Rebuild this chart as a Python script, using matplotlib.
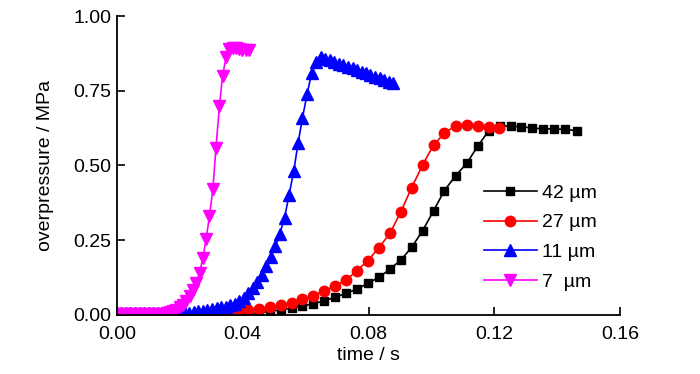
import matplotlib
matplotlib.use("Agg")
import matplotlib.pyplot as plt

plt.rcParams['font.family'] = ['Liberation Sans', 'DejaVu Sans']

# 42 um
t42 = [0.0348, 0.0383, 0.0417, 0.0452, 0.0487, 0.0521, 0.0556, 0.0590, 0.0624, 0.0659,
       0.0694, 0.0729, 0.0763, 0.0798, 0.0833, 0.0868, 0.0903, 0.0937, 0.0972, 0.1007,
       0.1041, 0.1077, 0.1112, 0.1148, 0.1182, 0.1218, 0.1252, 0.1286, 0.1321, 0.1356,
       0.1391, 0.1426, 0.1462]
p42 = [0.002, 0.004, 0.005, 0.007, 0.012, 0.017, 0.023, 0.030, 0.037, 0.047,
       0.059, 0.073, 0.086, 0.106, 0.126, 0.153, 0.184, 0.226, 0.282, 0.349,
       0.416, 0.466, 0.507, 0.566, 0.616, 0.633, 0.631, 0.630, 0.625, 0.623,
       0.622, 0.621, 0.616]

# 27 um
t27 = [0.0280, 0.0314, 0.0348, 0.0383, 0.0417, 0.0452, 0.0487, 0.0521, 0.0556, 0.0590,
       0.0624, 0.0659, 0.0694, 0.0729, 0.0763, 0.0798, 0.0833, 0.0868, 0.0903, 0.0937,
       0.0972, 0.1007, 0.1041, 0.1077, 0.1112, 0.1147, 0.1182, 0.1216]
p27 = [0.003, 0.006, 0.009, 0.012, 0.015, 0.019, 0.025, 0.032, 0.041, 0.052,
       0.064, 0.080, 0.097, 0.117, 0.148, 0.182, 0.225, 0.273, 0.346, 0.426,
       0.502, 0.569, 0.608, 0.633, 0.634, 0.633, 0.630, 0.625]

# 11 um
t11 = [0.0000, 0.0014, 0.0029, 0.0043, 0.0058, 0.0072, 0.0086, 0.0101, 0.0115, 0.0130,
       0.0144, 0.0158, 0.0173, 0.0187, 0.0202, 0.0216, 0.0230, 0.0245, 0.0259, 0.0274,
       0.0288, 0.0302, 0.0317, 0.0331, 0.0346, 0.0360, 0.0374, 0.0389, 0.0403, 0.0418,
       0.0432, 0.0446, 0.0461, 0.0475, 0.0490, 0.0504, 0.0518, 0.0533, 0.0547, 0.0562,
       0.0576, 0.0590, 0.0605, 0.0619, 0.0634, 0.0648, 0.0662, 0.0677, 0.0691, 0.0706,
       0.0720, 0.0734, 0.0749, 0.0763, 0.0778, 0.0792, 0.0806, 0.0821, 0.0835, 0.0850,
       0.0864, 0.0878]
p11 = [0.005, 0.005, 0.005, 0.005, 0.005, 0.005, 0.005, 0.005, 0.005, 0.005,
       0.005, 0.005, 0.005, 0.005, 0.006, 0.007, 0.008, 0.010, 0.012, 0.014,
       0.016, 0.019, 0.022, 0.025, 0.028, 0.032, 0.038, 0.047, 0.058, 0.073,
       0.091, 0.110, 0.135, 0.162, 0.195, 0.230, 0.272, 0.325, 0.400, 0.480,
       0.575, 0.660, 0.740, 0.810, 0.845, 0.862, 0.857, 0.852, 0.846, 0.840,
       0.835, 0.830, 0.825, 0.819, 0.814, 0.809, 0.803, 0.797, 0.792, 0.786,
       0.781, 0.776]

# 7 um
t7 = [0.0000, 0.0011, 0.0021, 0.0032, 0.0042, 0.0053, 0.0063, 0.0074, 0.0084, 0.0095,
      0.0105, 0.0116, 0.0126, 0.0137, 0.0147, 0.0158, 0.0168, 0.0179, 0.0189, 0.0200,
      0.0210, 0.0221, 0.0231, 0.0242, 0.0252, 0.0263, 0.0273, 0.0284, 0.0294, 0.0305,
      0.0315, 0.0326, 0.0336, 0.0347, 0.0357, 0.0368, 0.0378, 0.0389, 0.0399, 0.0410,
      0.0420]
p7 = [0.003, 0.003, 0.003, 0.003, 0.003, 0.003, 0.003, 0.003, 0.003, 0.003,
      0.003, 0.003, 0.003, 0.003, 0.004, 0.006, 0.009, 0.013, 0.018, 0.025,
      0.034, 0.047, 0.062, 0.083, 0.108, 0.140, 0.190, 0.255, 0.330, 0.420,
      0.560, 0.700, 0.800, 0.862, 0.890, 0.893, 0.892, 0.890, 0.888, 0.887,
      0.886]

xticks = [0.00, 0.04, 0.08, 0.12, 0.16]
yticks = [0.00, 0.25, 0.50, 0.75, 1.00]

fig = plt.figure(figsize=(7.0, 3.74), dpi=100)
ax = fig.add_axes([0.167, 0.158, 0.719, 0.799])

ax.plot(t42, p42, color='black', marker='s', ms=6, lw=1.2, label='42 µm')
ax.plot(t27, p27, color='red', marker='o', ms=7.5, lw=1.2, label='27 µm')
ax.plot(t11, p11, color='blue', marker='^', ms=8, lw=1.2, label='11 µm')
ax.plot(t7, p7, color='magenta', marker='v', ms=8, lw=1.2, label='7  µm')

ax.set_xlim(0, 0.16)
ax.set_ylim(0, 1.0)
ax.set_xticks(xticks)
ax.set_xticklabels(['%.2f' % v for v in xticks])
ax.set_yticks(yticks)
ax.set_yticklabels(['%.2f' % v for v in yticks])
ax.tick_params(direction='in', length=6, width=1.2, labelsize=14)
ax.tick_params(axis='x', pad=8)
ax.tick_params(axis='y', pad=4)

for s in ['top', 'right']:
    ax.spines[s].set_visible(False)
for s in ['left', 'bottom']:
    ax.spines[s].set_linewidth(1.3)

ax.set_xlabel('time / s', fontsize=14, labelpad=3)
ax.set_ylabel('overpressure / MPa', fontsize=14, labelpad=14)

ax.legend(loc='lower right', bbox_to_anchor=(0.97, 0.055), frameon=False,
          fontsize=14, handlelength=2.7, handletextpad=0.3, labelspacing=0.62,
          borderaxespad=0)

fig.savefig('out.png', dpi=100)
